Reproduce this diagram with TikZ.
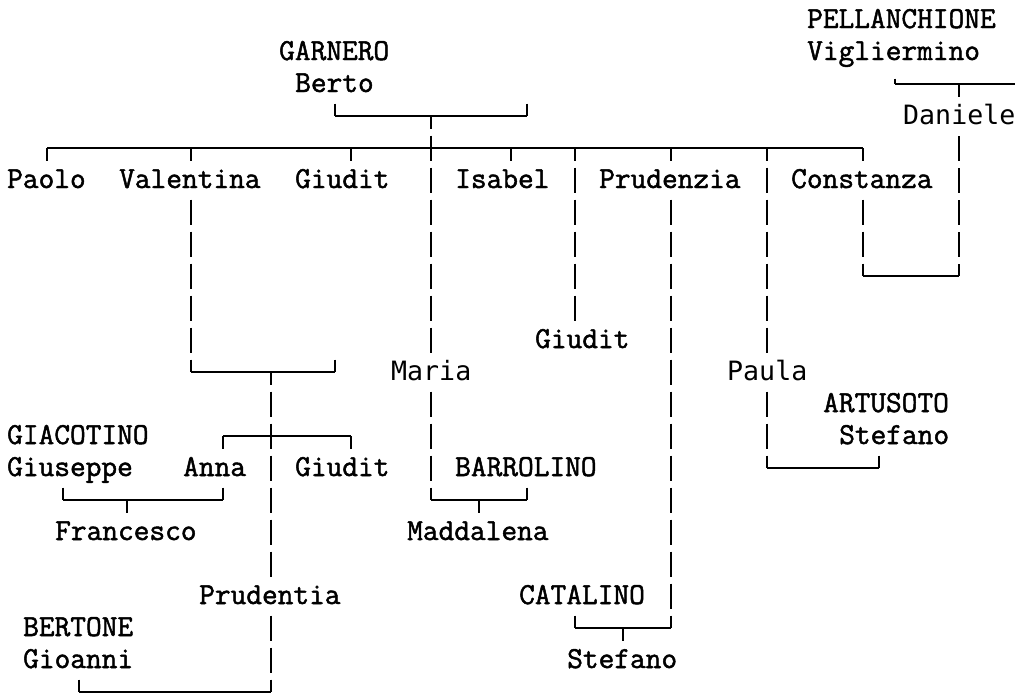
\documentclass[tikz,border=0pt]{standalone}
\usepackage{fontspec}
\newfontfamily\serifmono{Latin Modern Mono}[FakeBold=1.6]
\newfontfamily\sansmono{DejaVu Sans Mono}
\begin{document}
\begin{tikzpicture}[x=16pt, y=-32pt,
    person/.style={anchor=base west, inner sep=0pt,
                   font=\fontsize{30.5}{32}\selectfont\serifmono},
    persans/.style={person, font=\fontsize{26.6}{32}\selectfont\sansmono},
    hline/.style={line width=1.9pt},
    vline/.style={line width=1.9pt, dash pattern=on 25pt off 7pt, dash phase=28.5pt},
    vtick/.style={vline, dash phase=12.5pt},
]
\useasboundingbox (-0.9375,-5.625) rectangle (62.75,16.0625);

% people (column-0.5, row+0.25)
\node[person] (pellanchione) at (49.5,-4.75) {PELLANCHIONE};
\node[person] (vigliermino) at (49.5,-3.75) {Vigliermino};
\node[person] (garnero) at (16.5,-3.75) {GARNERO};
\node[person] (berto) at (17.5,-2.75) {Berto};
\node[persans] (daniele) at (55.5,-1.75) {Daniele};
\node[person] (paolo) at (-0.5,0.25) {Paolo};
\node[person] (valentina) at (6.5,0.25) {Valentina};
\node[person] (giudit) at (17.5,0.25) {Giudit};
\node[person] (isabel) at (27.5,0.25) {Isabel};
\node[person] (prudenzia) at (36.5,0.25) {Prudenzia};
\node[person] (constanza) at (48.5,0.25) {Constanza};
\node[person] (giuditb) at (32.5,5.25) {Giudit};
\node[persans] (maria) at (23.5,6.25) {Maria};
\node[persans] (paula) at (44.5,6.25) {Paula};
\node[person] (artusoto) at (50.5,7.25) {ARTUSOTO};
\node[person] (stefanoa) at (51.5,8.25) {Stefano};
\node[person] (giacotino) at (-0.5,8.25) {GIACOTINO};
\node[person] (giuseppe) at (-0.5,9.25) {Giuseppe};
\node[person] (anna) at (10.5,9.25) {Anna};
\node[person] (giuditc) at (17.5,9.25) {Giudit};
\node[person] (barrolino) at (27.5,9.25) {BARROLINO};
\node[person] (francesco) at (2.5,11.25) {Francesco};
\node[person] (maddalena) at (24.5,11.25) {Maddalena};
\node[person] (prudentia) at (11.5,13.25) {Prudentia};
\node[person] (catalino) at (31.5,13.25) {CATALINO};
\node[person] (bertone) at (0.5,14.25) {BERTONE};
\node[person] (gioanni) at (0.5,15.25) {Gioanni};
\node[person] (stefanob) at (34.5,15.25) {Stefano};

% junctions
\coordinate (pv-l) at (55,-3); \coordinate (pv-m) at (59,-3); \coordinate (pv-r) at (62.5,-3);
\coordinate (gb-l) at (20,-2); \coordinate (gb-m) at (26,-2); \coordinate (gb-r) at (32,-2);
\coordinate (kids-l) at (2,-1); \coordinate (kids-r) at (53,-1);
\coordinate (cd-l) at (53,3); \coordinate (cd-r) at (59,3);
\coordinate (va-l) at (11,6); \coordinate (va-m) at (16,6); \coordinate (va-r) at (20,6);
\coordinate (an-l) at (13,8); \coordinate (an-m) at (16,8); \coordinate (an-r) at (21,8);
\coordinate (pa-l) at (47,9); \coordinate (pa-r) at (54,9);
\coordinate (gi-l) at (3,10); \coordinate (gi-m) at (7,10); \coordinate (gi-r) at (13,10);
\coordinate (ma-l) at (26,10); \coordinate (ma-m) at (29,10); \coordinate (ma-r) at (32,10);
\coordinate (pr-l) at (35,14); \coordinate (pr-m) at (38,14); \coordinate (pr-r) at (41,14);
\coordinate (bg-l) at (4,16); \coordinate (bg-r) at (16,16);

% horizontal bars
\draw[hline] (pv-l) -- (pv-r);
\draw[hline] (gb-l) -- (gb-r);
\draw[hline] (kids-l) -- (kids-r);
\draw[hline] (cd-l) -- (cd-r);
\draw[hline] (va-l) -- (va-r);
\draw[hline] (an-l) -- (an-r);
\draw[hline] (pa-l) -- (pa-r);
\draw[hline] (gi-l) -- (gi-r);
\draw[hline] (ma-l) -- (ma-r);
\draw[hline] (pr-l) -- (pr-r);
\draw[hline] (bg-l) -- (bg-r);

% vertical lines, always drawn downwards
\draw[vline] (vigliermino.south -| pv-l) ++(0,0.25) -- (pv-l);
\draw[vtick] (pv-m) -- ++(0,0.5);
\draw[vline] (daniele.south -| pv-m) ++(0,0.25) -- (cd-r);
\draw[vline] (20,-2.5) -- (gb-l);
\draw[vline] (32,-2.5) -- (gb-r);
\draw[vtick] (gb-m) -- (26,5.5);
\draw[vline] (26,6.5) -- (ma-l);
\draw[vtick] (kids-l) -- ++(0,0.5);
\draw[vtick] (11,-1) -- ++(0,0.5);
\draw[vline] (11,0.5) -- (va-l);
\draw[vtick] (21,-1) -- ++(0,0.5);
\draw[vtick] (31,-1) -- ++(0,0.5);
\draw[vtick] (35,-1) -- (35,4.5);
\draw[vtick] (41,-1) -- ++(0,0.5);
\draw[vline] (41,0.5) -- (pr-r);
\draw[vtick] (47,-1) -- (47,5.5);
\draw[vline] (47,6.5) -- (pa-l);
\draw[vtick] (kids-r) -- ++(0,0.5);
\draw[vline] (53,0.5) -- (cd-l);
\draw[vline] (20,5.5) -- (va-r);
\draw[vtick] (va-m) -- (16,12.5);
\draw[vline] (16,13.5) -- (bg-r);
\draw[vtick] (an-l) -- ++(0,0.5);
\draw[vtick] (an-r) -- ++(0,0.5);
\draw[vline] (54,8.5) -- (pa-r);
\draw[vline] (3,9.5) -- (gi-l);
\draw[vline] (13,9.5) -- (gi-r);
\draw[vtick] (gi-m) -- ++(0,0.5);
\draw[vline] (32,9.5) -- (ma-r);
\draw[vtick] (ma-m) -- ++(0,0.5);
\draw[vline] (35,13.5) -- (pr-l);
\draw[vtick] (pr-m) -- ++(0,0.5);
\draw[vline] (4,15.5) -- (bg-l);
\end{tikzpicture}
\end{document}
